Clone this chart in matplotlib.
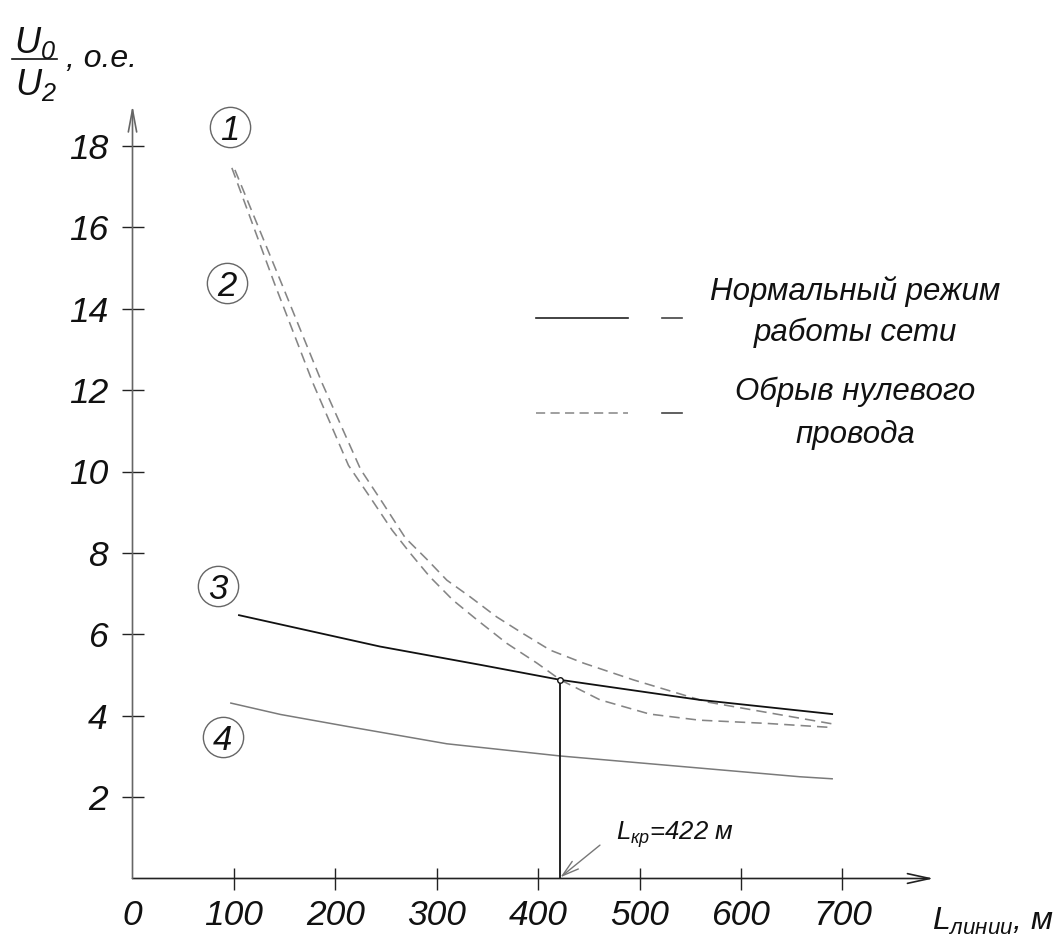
import matplotlib
matplotlib.use("Agg")
import matplotlib.pyplot as plt
from matplotlib.lines import Line2D

# ---------------- data ----------------
L1 = [101, 147, 187, 225, 247, 269, 290, 310, 333, 359, 385, 412, 445, 494, 566, 690]
V1 = [17.41, 14.62, 12.17, 10.05, 9.22, 8.37, 7.85, 7.33, 6.92, 6.43, 6.02, 5.61, 5.29, 4.88, 4.34, 3.80]

L2 = [98, 140, 178, 213, 234, 256, 274, 293, 316, 340, 369, 399, 422, 461, 510, 559, 626, 690]
V2 = [17.46, 14.62, 12.17, 10.15, 9.38, 8.56, 7.99, 7.42, 6.84, 6.35, 5.78, 5.29, 4.88, 4.39, 4.04, 3.89, 3.81, 3.71]

L3 = [105, 244, 343, 422, 559, 690]
V3 = [6.47, 5.70, 5.25, 4.88, 4.39, 4.04]

L4 = [97, 146, 211, 310, 422, 658, 690]
V4 = [4.31, 4.03, 3.74, 3.31, 3.01, 2.50, 2.45]

L_CRIT = 422
V_CRIT = 4.88

X_TICKS = [0, 100, 200, 300, 400, 500, 600, 700]
Y_TICKS = [2, 4, 6, 8, 10, 12, 14, 16, 18]

LEGEND_LINES = [["Нормальный режим", "работы сети"], ["Обрыв нулевого", "провода"]]
CURVE_LABELS = ["1", "2", "3", "4"]
X_LABEL = r"$L_{линии}$, м"
CRIT_LABEL = r"$L_{кр}$=422 м"

# ---------------- style ----------------
FONT = ["Liberation Sans", "DejaVu Sans"]
plt.rcParams["font.family"] = FONT
plt.rcParams["font.style"] = "italic"
plt.rcParams["mathtext.fontset"] = "custom"
plt.rcParams["mathtext.it"] = "Liberation Sans:italic"
plt.rcParams["mathtext.rm"] = "Liberation Sans:italic"
plt.rcParams["mathtext.default"] = "it"

W, H = 1059, 935
fig = plt.figure(figsize=(W / 100, H / 100), dpi=100)
fig.patch.set_facecolor("white")


def fx(px):
    return px / W


def fy(py):
    return 1 - py / H


# axes: x 0..800 -> px 132.5..943.7 ; y 0..20 -> px 878.5..64.5
x0, x1 = 132.5, 132.5 + 800 * 1.014
y0, y1 = 878.5, 878.5 - 20 * 40.7
ax = fig.add_axes([fx(x0), fy(y0), (x1 - x0) / W, (y0 - y1) / H])
ax.set_xlim(0, 800)
ax.set_ylim(0, 20)
for s in ax.spines.values():
    s.set_visible(False)
ax.patch.set_alpha(0)

# axis arrows
ax.annotate("", xy=(790, 0), xytext=(0, 0),
            arrowprops=dict(arrowstyle="->,head_length=1.6,head_width=0.35",
                            color="#222222", lw=1.2, shrinkA=0, shrinkB=0,
                            mutation_scale=10), annotation_clip=False)
ax.annotate("", xy=(0, 19.0), xytext=(0, 0),
            arrowprops=dict(arrowstyle="->,head_length=1.6,head_width=0.3",
                            color="#666666", lw=1.2, shrinkA=0, shrinkB=0,
                            mutation_scale=10), annotation_clip=False)

# ticks
ax.set_xticks(X_TICKS)
ax.set_xticklabels([str(t) for t in X_TICKS])
ax.set_yticks(Y_TICKS)
ax.set_yticklabels([str(t) for t in Y_TICKS])
ax.tick_params(axis="both", direction="inout", length=15.5, width=1.0,
               color="#222222", labelsize=25.5)
ax.tick_params(axis="x", pad=7)
ax.tick_params(axis="y", pad=10)
ax.xaxis.get_major_ticks()[0].tick1line.set_visible(False)
for lab in ax.get_xticklabels() + ax.get_yticklabels():
    lab.set_fontstyle("italic")
    lab.set_color("#111111")

# curves
dash = (0, (6.5, 3.8))
ax.plot(L1, V1, color="#858585", lw=1.15, linestyle=dash)
ax.plot(L2, V2, color="#858585", lw=1.15, linestyle=dash)
ax.plot(L3, V3, color="#111111", lw=1.3)
ax.plot(L4, V4, color="#7a7a7a", lw=1.1)

# critical length
ax.plot([L_CRIT, L_CRIT], [0, V_CRIT], color="#111111", lw=1.3)
ax.plot([L_CRIT], [V_CRIT], marker="o", ms=4, mfc="white", mec="#111111", mew=1)
ax.annotate("", xy=(L_CRIT, 0.03), xytext=(461, 0.82),
            arrowprops=dict(arrowstyle="->,head_length=1.2,head_width=0.35",
                            color="#777777", lw=1.0, shrinkA=0, shrinkB=0,
                            mutation_scale=10))
ax.text(477, 0.95, CRIT_LABEL, fontsize=18.5, color="#111111", fontstyle="italic",
        ha="left", va="baseline")

# numbered circle labels
label_pos = [(96, 18.46), (93, 14.63), (84, 7.19), (89, 3.48)]
for (lx, ly), t in zip(label_pos, CURVE_LABELS):
    ax.plot([lx], [ly], marker="o", ms=29, mfc="white", mec="#666666", mew=1.0,
            clip_on=False, zorder=3)
    ax.text(lx, ly, t, fontsize=25, ha="center", va="center_baseline",
            color="#111111", fontstyle="italic", zorder=4)

# legend
fig.add_artist(Line2D([fx(536), fx(628)], [fy(318), fy(318)], color="#222222", lw=1.2))
fig.add_artist(Line2D([fx(662), fx(682)], [fy(318), fy(318)], color="#444444", lw=1.2))
fig.add_artist(Line2D([fx(536), fx(628)], [fy(413), fy(413)], color="#858585", lw=1.1,
                      linestyle=(0, (6.0, 3.5))))
fig.add_artist(Line2D([fx(662), fx(682)], [fy(413), fy(413)], color="#444444", lw=1.2))
legend_baselines = [[300, 341], [400, 443]]
for lines, bls in zip(LEGEND_LINES, legend_baselines):
    for txt, bl in zip(lines, bls):
        fig.text(fx(855), fy(bl), txt, fontsize=22.5, ha="center", va="baseline",
                 color="#111111", fontstyle="italic")

# y-axis label (fraction)
fig.text(fx(14), fy(53), r"$U_0$", fontsize=26, ha="left", va="baseline", color="#111111")
fig.add_artist(Line2D([fx(12), fx(57)], [fy(59), fy(59)], color="#111111", lw=1.2))
fig.text(fx(15), fy(95), r"$U_2$", fontsize=26, ha="left", va="baseline", color="#111111")
fig.text(fx(66), fy(67), ", о.е.", fontsize=23, ha="left", va="baseline",
         color="#111111", fontstyle="italic")

# x-axis label
fig.text(fx(932), fy(930), X_LABEL, fontsize=23, ha="left", va="baseline", color="#111111")

fig.savefig("out.png", dpi=100, facecolor="white")
